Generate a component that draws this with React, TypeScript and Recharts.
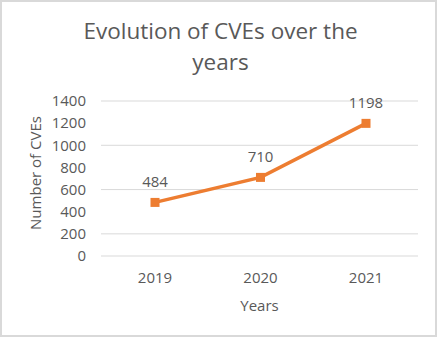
import React from "react";
import {
  LineChart,
  Line,
  XAxis,
  YAxis,
  CartesianGrid,
  LabelList,
  Label,
} from "recharts";

const years = ["2019", "2020", "2021"];
const cveCounts = [484, 710, 1198];
const yTicks = [0, 200, 400, 600, 800, 1000, 1200, 1400];

const data = years.map((year, i) => ({ year, cves: cveCounts[i] }));

const FONT = "'Open Sans', sans-serif";
const GREY = "#595959";
const ORANGE = "#ED7D31";

const SquareDot = (props: any) => {
  const { cx, cy } = props;
  if (cx == null || cy == null) return null;
  return <rect x={cx - 4.5} y={cy - 4.5} width={9} height={9} fill={ORANGE} />;
};

const YTitle = () => (
  <text
    x={35}
    y={173}
    transform="rotate(-90 35 173)"
    textAnchor="middle"
    dominantBaseline="central"
    fontFamily={FONT}
    fontSize={15}
    fill={GREY}
  >
    Number of CVEs
  </text>
);

const XTitle = (props: any) => {
  const { viewBox } = props;
  const cx = viewBox ? viewBox.x + viewBox.width / 2 : 260;
  return (
    <text
      x={cx}
      y={305}
      textAnchor="middle"
      dominantBaseline="central"
      fontFamily={FONT}
      fontSize={15}
      fill={GREY}
    >
      Years
    </text>
  );
};

const App: React.FC = () => {
  return (
    <div
      style={{
        position: "fixed",
        left: 0,
        top: 0,
        width: 441,
        height: 341,
        background: "#fff",
      }}
    >
      <div
        style={{
          position: "absolute",
          left: 0,
          top: 0,
          width: 437,
          height: 337,
          boxSizing: "border-box",
          border: "2px solid #d9d9d9",
        }}
      />
      <div
        style={{
          position: "absolute",
          left: 0,
          top: 15,
          width: 441,
          textAlign: "center",
          fontFamily: FONT,
          fontSize: 22.5,
          lineHeight: "31px",
          color: GREY,
        }}
      >
        Evolution of CVEs over the
        <br />
        years
      </div>
      <div style={{ position: "absolute", left: 0, top: 0 }}>
        <LineChart
          width={441}
          height={341}
          data={data}
          margin={{ top: 101, right: 23, bottom: 0, left: 0 }}
        >
          <CartesianGrid vertical={false} stroke="#d9d9d9" />
          <XAxis
            dataKey="year"
            padding={{ left: 54, right: 52 }}
            axisLine={false}
            tickLine={false}
            tickSize={6}
            tickMargin={10}
            height={85}
            tick={{ fontSize: 15, fill: GREY, fontFamily: FONT }}
          >
            <Label content={<XTitle />} />
          </XAxis>
          <YAxis
            domain={[0, 1400]}
            ticks={yTicks}
            width={101}
            axisLine={false}
            tickLine={false}
            tickSize={6}
            tickMargin={9}
            tick={{ fontSize: 15, fill: GREY, fontFamily: FONT }}
          >
            <Label content={<YTitle />} />
          </YAxis>
          <Line
            type="linear"
            dataKey="cves"
            stroke={ORANGE}
            strokeWidth={3.5}
            dot={<SquareDot />}
            activeDot={false}
            isAnimationActive={false}
          >
            <LabelList
              dataKey="cves"
              position="top"
              offset={15}
              fontSize={15}
              fill={GREY}
              fontFamily={FONT}
            />
          </Line>
        </LineChart>
      </div>
    </div>
  );
};

export default App;
